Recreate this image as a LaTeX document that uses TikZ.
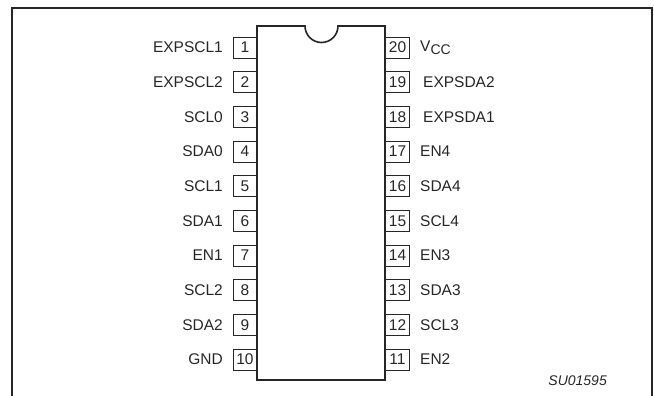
\documentclass[tikz,border=0pt]{standalone}
\usepackage{fontspec}
\setmainfont{Liberation Sans}
\usepackage{tikz}
\usepackage{color}
\definecolor{inkgray}{rgb}{0.15, 0.15, 0.15}
\tikzset{
	pinbox/.style={draw=inkgray, line width=0.7pt, minimum width=24pt, minimum height=21pt, inner sep=0pt, text=inkgray, font=\fontsize{15.5}{18}\selectfont},
	pinlabel/.style={inner sep=0pt, text=inkgray, font=\fontsize{15.5}{18}\selectfont},
}

\begin{document}
\begin{tikzpicture}[x=1pt, y=-1pt]
		\useasboundingbox (0,0) rectangle (654,396);
		\draw [inkgray, line width=1.6pt] (12,396)--(12,8)--(652,8)--(652,396);
		\foreach \i/\n in {1/EXPSCL1,2/EXPSCL2,3/SCL0,4/SDA0,5/SCL1,6/SDA1,7/EN1,8/SCL2,9/SDA2,10/GND}{
			\node [pinbox] (pin\i) at (245,{47.5+(\i-1)*34.67}) {\i};
			\node [pinlabel, anchor=east] (lab\i) at (223,{47.5+(\i-1)*34.67}) {\n};
		}
		\foreach \i/\n/\d in {11/EN2/0,12/SCL3/0,13/SDA3/0,14/EN3/0,15/SCL4/0,16/SDA4/0,17/EN4/0,18/EXPSDA1/3,19/EXPSDA2/3}{
			\node [pinbox] (pin\i) at (397.5,{359.5-(\i-11)*34.67}) {\i};
			\node [pinlabel, anchor=west] (lab\i) at (420+\d,{359.5-(\i-11)*34.67}) {\n};
		}
		\node [pinbox] (pin20) at (397.5,47.5) {20};
		\node [pinlabel, anchor=west] (lab20) at (420,47.5) {V\raisebox{-3pt}{\fontsize{14}{14}\selectfont CC}};
		\draw [inkgray, line width=1.6pt, fill=white] (257,26)--(305,26) arc[start angle=180, end angle=0, radius=16.5]--(385,26)--(385,380)--(257,380)--cycle;
		\node [pinlabel, anchor=east, font=\fontsize{14}{16}\selectfont\itshape] (code) at (607,381) {SU01595};
	\end{tikzpicture}
\end{document}
